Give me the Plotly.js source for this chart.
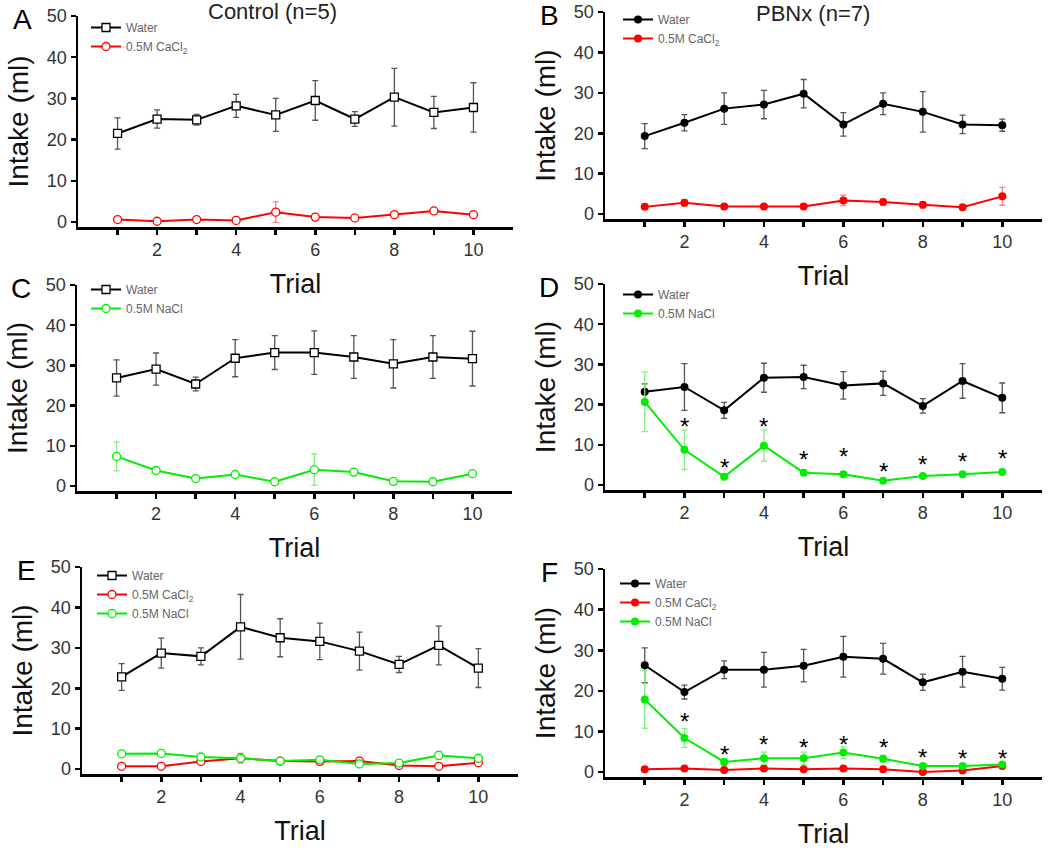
<!DOCTYPE html>
<html>
<head>
<meta charset="utf-8">
<script src="https://cdn.plot.ly/plotly-3.0.1.min.js"></script>
<style>html,body{margin:0;padding:0;background:#fff;}#chart{width:1050px;height:867px;}</style>
</head>
<body>
<div id="chart"></div>
<script>
// ---------- DATA ----------
const trials = [1, 2, 3, 4, 5, 6, 7, 8, 9, 10];
const xMajorTicks = [2, 4, 6, 8, 10];
const xMinorTicks = [1, 3, 5, 7, 9];
const yTickVals = [0, 10, 20, 30, 40, 50];

const panelLetters = ['A', 'B', 'C', 'D', 'E', 'F'];
const groupTitles = ['Control (n=5)', 'PBNx (n=7)'];
const seriesNames = ['Water', '0.5M CaCl<sub>2</sub>', '0.5M NaCl'];

// Panel A (Control, water vs CaCl2)
const A_water = [21.5, 25.0, 24.8, 28.2, 26.0, 29.5, 25.0, 30.3, 26.6, 27.8];
const A_water_err = [3.8, 2.2, 1.3, 2.8, 4.0, 4.8, 1.8, 7.0, 3.9, 6.0];
const A_ca = [0.6, 0.2, 0.6, 0.4, 2.4, 1.2, 1.0, 1.8, 2.7, 1.8];
const A_ca_err = [0.4, 0.3, 0.3, 0.5, 2.5, 0.4, 0.4, 0.4, 0.7, 0.4];

// Panel B (PBNx, water vs CaCl2)
const B_water = [19.3, 22.6, 26.1, 27.1, 29.8, 22.2, 27.3, 25.3, 22.2, 22.0];
const B_water_err = [3.1, 2.0, 3.9, 3.5, 3.5, 2.9, 2.7, 5.0, 2.3, 1.5];
const B_ca = [1.8, 2.8, 1.9, 1.9, 1.9, 3.4, 3.0, 2.3, 1.7, 4.4];
const B_ca_err = [0.6, 0.8, 0.5, 0.5, 0.5, 1.3, 0.7, 0.8, 0.5, 2.2];

// Panel C (Control, water vs NaCl)
const C_water = [26.9, 29.1, 25.4, 31.8, 33.2, 33.2, 32.1, 30.4, 32.1, 31.7];
const C_water_err = [4.5, 4.0, 1.7, 4.6, 4.2, 5.4, 5.3, 6.0, 5.3, 6.8];
const C_na = [7.4, 3.9, 1.9, 2.9, 1.1, 4.1, 3.5, 1.2, 1.1, 3.1];
const C_na_err = [3.6, 0.6, 0.5, 0.6, 0.5, 3.9, 0.6, 0.5, 0.5, 0.7];

// Panel D (PBNx, water vs NaCl)
const D_water = [23.2, 24.4, 18.6, 26.7, 26.9, 24.8, 25.3, 19.7, 25.9, 21.7];
const D_water_err = [2.0, 5.8, 2.0, 3.6, 2.9, 3.4, 3.0, 1.8, 4.3, 3.7];
const D_na = [20.7, 8.8, 2.1, 9.8, 3.1, 2.7, 1.1, 2.3, 2.7, 3.3];
const D_na_err = [7.4, 4.9, 0.6, 3.9, 0.6, 0.6, 0.5, 0.5, 0.6, 0.6];
const D_star_x = [2, 3, 4, 5, 6, 7, 8, 9, 10];
const D_star_y = [16.0, 6.0, 16.1, 7.9, 8.5, 4.8, 6.7, 7.3, 8.1];

// Panel E (Control, water vs CaCl2 vs NaCl)
const E_water = [22.8, 28.7, 27.9, 35.2, 32.5, 31.6, 29.2, 25.9, 30.6, 25.0];
const E_water_err = [3.3, 3.7, 2.1, 8.0, 4.7, 4.5, 4.7, 2.0, 4.8, 4.8];
const E_ca = [0.7, 0.7, 1.9, 2.7, 2.0, 1.9, 2.0, 0.9, 0.7, 1.6];
const E_ca_err = [0.4, 0.4, 0.5, 1.2, 0.6, 0.5, 0.6, 0.4, 0.4, 0.5];
const E_na = [3.8, 3.9, 3.0, 2.7, 2.0, 2.3, 1.3, 1.5, 3.4, 2.7];
const E_na_err = [0.5, 0.5, 0.5, 0.6, 0.5, 0.5, 0.5, 0.5, 1.0, 0.5];

// Panel F (PBNx, water vs CaCl2 vs NaCl)
const F_water = [26.3, 19.7, 25.2, 25.2, 26.2, 28.4, 27.9, 22.1, 24.7, 23.0];
const F_water_err = [4.3, 1.7, 2.2, 4.3, 4.0, 5.0, 3.8, 2.0, 3.8, 2.8];
const F_ca = [0.7, 0.9, 0.5, 0.9, 0.7, 0.9, 0.7, 0.0, 0.4, 1.5];
const F_ca_err = [0.4, 0.4, 0.3, 0.4, 0.4, 0.4, 0.4, 0.3, 0.3, 0.4];
const F_na = [17.9, 8.4, 2.5, 3.4, 3.4, 4.8, 3.3, 1.5, 1.5, 1.9];
const F_na_err = [7.1, 2.3, 0.8, 1.5, 1.5, 1.5, 0.8, 0.5, 0.5, 0.5];
const F_star_x = [2, 3, 4, 5, 6, 7, 8, 9, 10];
const F_star_y = [14.0, 5.7, 8.4, 7.5, 8.4, 7.5, 5.0, 4.9, 4.8];

// ---------- STYLE / LAYOUT HELPERS ----------
const W = 1050, H = 867;
const FONT = 'Liberation Sans, Arial, sans-serif';
const COL = {
  water: {line: '#000000', err: '#555555'},
  ca: {line: '#ff0000', err: '#ff8080'},
  na: {line: '#00ee00', err: '#80f080'}
};
// panel pixel boxes [left, right, top, bottom]
const boxes = [
  [78, 513, 16, 227],
  [605, 1042, 12, 219],
  [77, 512, 285, 491],
  [605, 1042, 284, 490],
  [82, 518, 567, 774],
  [605, 1042, 569, 777]
];
const legendPos = [[86, 13], [618, 5], [86, 275], [618, 280], [92, 561], [615, 569]];

function series(n, y, err, kind, name, open, legendId) {
  const c = COL[kind];
  const sym = kind === 'water' ? 'square' : 'circle';
  return {
    x: trials, y: y, type: 'scatter', mode: 'lines+markers', name: name,
    xaxis: 'x' + (n === 1 ? '' : n), yaxis: 'y' + (n === 1 ? '' : n),
    legend: legendId, showlegend: true,
    line: {color: c.line, width: 2},
    marker: open
      ? {symbol: sym, size: 8, color: '#ffffff', line: {color: c.line, width: 1.3}}
      : {symbol: 'circle', size: 8, color: c.line, line: {color: c.line, width: 0}},
    error_y: {type: 'data', array: err, visible: true, color: c.err, thickness: 1.3, width: 3}
  };
}
function starAnnotations(n, xs, ys) {
  return xs.map((x, k) => ({
    text: '*', x: x, y: ys[k], xref: 'x' + n, yref: 'y' + n,
    xanchor: 'center', yanchor: 'middle', yshift: -6, showarrow: false,
    font: {family: FONT, size: 24, color: '#000'}
  }));
}

const data = [];
const panels = [
  [[A_water, A_water_err, 'water', 0], [A_ca, A_ca_err, 'ca', 1]],
  [[B_water, B_water_err, 'water', 0], [B_ca, B_ca_err, 'ca', 1]],
  [[C_water, C_water_err, 'water', 0], [C_na, C_na_err, 'na', 2]],
  [[D_water, D_water_err, 'water', 0], [D_na, D_na_err, 'na', 2]],
  [[E_water, E_water_err, 'water', 0], [E_ca, E_ca_err, 'ca', 1], [E_na, E_na_err, 'na', 2]],
  [[F_water, F_water_err, 'water', 0], [F_ca, F_ca_err, 'ca', 1], [F_na, F_na_err, 'na', 2]]
];
panels.forEach((p, i) => {
  const n = i + 1;
  const open = (i % 2 === 0);
  const lg = n === 1 ? 'legend' : 'legend' + n;
  p.forEach(s => data.push(series(n, s[0], s[1], s[2], seriesNames[s[3]], open, lg)));
});

const layout = {
  width: W, height: H, margin: {l: 0, r: 0, t: 0, b: 0},
  paper_bgcolor: '#ffffff', plot_bgcolor: 'rgba(0,0,0,0)',
  font: {family: FONT, color: '#000'},
  showlegend: true, annotations: []
};
boxes.forEach((b, i) => {
  const n = i + 1;
  const xk = 'xaxis' + (n === 1 ? '' : n), yk = 'yaxis' + (n === 1 ? '' : n);
  layout[xk] = {
    domain: [b[0] / W, b[1] / W], anchor: 'y' + (n === 1 ? '' : n),
    range: [0, 11], tickmode: 'array', tickvals: xMajorTicks,
    ticks: 'outside', ticklen: 5, tickwidth: 2.5, tickcolor: '#000',
    minor: {tickmode: 'array', tickvals: xMinorTicks, ticks: 'outside', ticklen: 5, tickwidth: 2.5, tickcolor: '#000'},
    showline: true, linewidth: 2.5, linecolor: '#000', showgrid: false, zeroline: false,
    tickfont: {family: FONT, size: 18, color: '#333'},
    title: {text: 'Trial', font: {family: FONT, size: 27, color: '#111'}, standoff: 15}
  };
  layout[yk] = {
    domain: [1 - b[3] / H, 1 - b[2] / H], anchor: 'x' + (n === 1 ? '' : n),
    range: [-1.2, 50], tickmode: 'array', tickvals: yTickVals,
    ticks: 'outside', ticklen: 5, tickwidth: 2.5, tickcolor: '#000',
    showline: true, linewidth: 2.5, linecolor: '#000', showgrid: false, zeroline: false,
    tickfont: {family: FONT, size: 18, color: '#333'},
    title: {text: 'Intake (ml)', font: {family: FONT, size: 28, color: '#111'}, standoff: 10}
  };
  const lk = n === 1 ? 'legend' : 'legend' + n;
  const lp = legendPos[i];
  layout[lk] = {
    x: lp[0] / W, y: 1 - lp[1] / H, xanchor: 'left', yanchor: 'top',
    bgcolor: 'rgba(0,0,0,0)', borderwidth: 0,
    font: {family: FONT, size: 12, color: '#666'},
    tracegroupgap: 0, itemwidth: 30
  };
  layout.annotations.push({
    text: panelLetters[i], xref: 'paper', yref: 'paper',
    x: (b[0] - 56) / W, y: 1 - (b[2] + 3) / H, xanchor: 'center', yanchor: 'middle',
    showarrow: false, font: {family: FONT, size: 28, color: '#000'}
  });
});
layout.annotations.push(...starAnnotations(4, D_star_x, D_star_y));
layout.annotations.push(...starAnnotations(6, F_star_x, F_star_y));
layout.annotations.push({
  text: groupTitles[0], xref: 'paper', yref: 'paper', x: 272 / W, y: 1 - 12 / H,
  xanchor: 'center', yanchor: 'middle', showarrow: false,
  font: {family: FONT, size: 22, color: '#222'}
});
layout.annotations.push({
  text: groupTitles[1], xref: 'paper', yref: 'paper', x: 813 / W, y: 1 - 14 / H,
  xanchor: 'center', yanchor: 'middle', showarrow: false,
  font: {family: FONT, size: 22, color: '#222'}
});

Plotly.newPlot('chart', data, layout, {staticPlot: true, displayModeBar: false});
</script>
</body>
</html>
